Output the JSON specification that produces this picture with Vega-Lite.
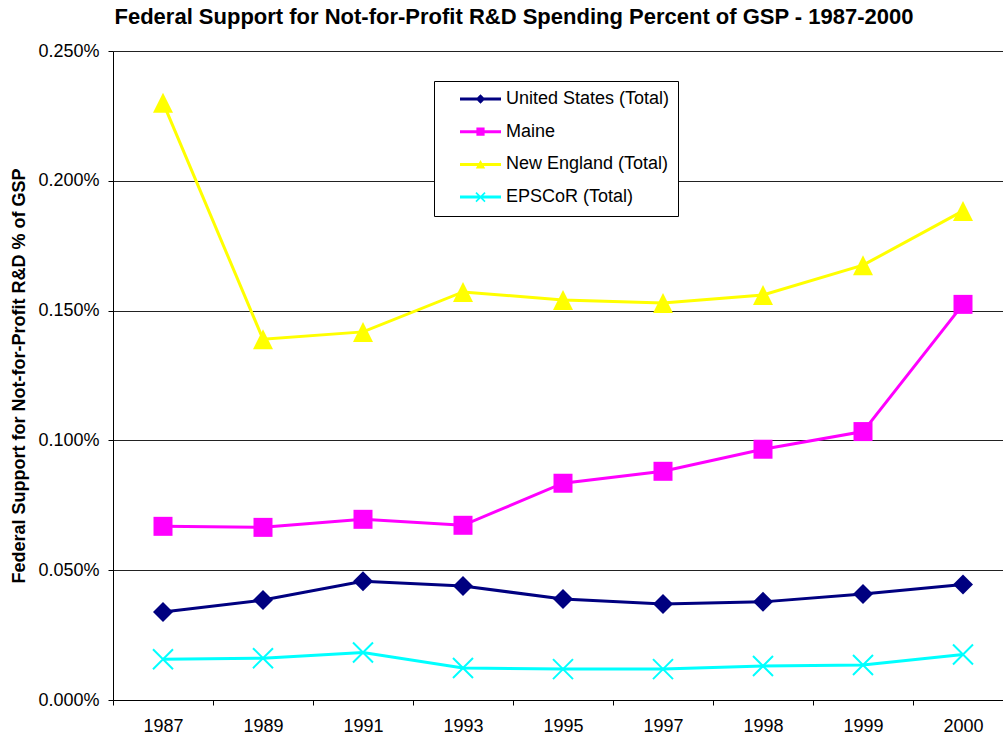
{
  "$schema": "https://vega.github.io/schema/vega-lite/v6.json",
  "width": 890,
  "height": 649,
  "autosize": {"type": "none"},
  "padding": {"left": 113, "top": 51, "right": 0, "bottom": 34},
  "background": "white",
  "config": {"view": {"stroke": null}, "font": "Liberation Sans"},
  "title": {
    "text": "Federal Support for Not-for-Profit R&D Spending Percent of GSP - 1987-2000",
    "font": "Liberation Sans",
    "fontSize": 22,
    "fontWeight": "bold",
    "color": "black",
    "anchor": "middle",
    "frame": "group",
    "offset": -4,
    "baseline": "alphabetic",
    "dx": -44
  },
  "data": {
    "values": [
      {"year": "1987", "series": "United States (Total)", "pct": 0.0339},
      {"year": "1989", "series": "United States (Total)", "pct": 0.0385},
      {"year": "1991", "series": "United States (Total)", "pct": 0.0457},
      {"year": "1993", "series": "United States (Total)", "pct": 0.0439},
      {"year": "1995", "series": "United States (Total)", "pct": 0.0389},
      {"year": "1997", "series": "United States (Total)", "pct": 0.0370},
      {"year": "1998", "series": "United States (Total)", "pct": 0.0378},
      {"year": "1999", "series": "United States (Total)", "pct": 0.0408},
      {"year": "2000", "series": "United States (Total)", "pct": 0.0445},
      {"year": "1987", "series": "Maine", "pct": 0.0669},
      {"year": "1989", "series": "Maine", "pct": 0.0665},
      {"year": "1991", "series": "Maine", "pct": 0.0696},
      {"year": "1993", "series": "Maine", "pct": 0.0673},
      {"year": "1995", "series": "Maine", "pct": 0.0835},
      {"year": "1997", "series": "Maine", "pct": 0.0881},
      {"year": "1998", "series": "Maine", "pct": 0.0966},
      {"year": "1999", "series": "Maine", "pct": 0.1034},
      {"year": "2000", "series": "Maine", "pct": 0.1524},
      {"year": "1987", "series": "New England (Total)", "pct": 0.2301},
      {"year": "1989", "series": "New England (Total)", "pct": 0.1390},
      {"year": "1991", "series": "New England (Total)", "pct": 0.1418},
      {"year": "1993", "series": "New England (Total)", "pct": 0.1572},
      {"year": "1995", "series": "New England (Total)", "pct": 0.1541},
      {"year": "1997", "series": "New England (Total)", "pct": 0.1529},
      {"year": "1998", "series": "New England (Total)", "pct": 0.1560},
      {"year": "1999", "series": "New England (Total)", "pct": 0.1675},
      {"year": "2000", "series": "New England (Total)", "pct": 0.1884},
      {"year": "1987", "series": "EPSCoR (Total)", "pct": 0.0157},
      {"year": "1989", "series": "EPSCoR (Total)", "pct": 0.0161},
      {"year": "1991", "series": "EPSCoR (Total)", "pct": 0.0183},
      {"year": "1993", "series": "EPSCoR (Total)", "pct": 0.0123},
      {"year": "1995", "series": "EPSCoR (Total)", "pct": 0.0119},
      {"year": "1997", "series": "EPSCoR (Total)", "pct": 0.0119},
      {"year": "1998", "series": "EPSCoR (Total)", "pct": 0.0131},
      {"year": "1999", "series": "EPSCoR (Total)", "pct": 0.0135},
      {"year": "2000", "series": "EPSCoR (Total)", "pct": 0.0175}
    ]
  },
  "encoding": {
    "x": {
      "field": "year",
      "type": "ordinal",
      "bandPosition": 0.5,
      "scale": {"type": "band", "range": [0, 900], "paddingInner": 0, "paddingOuter": 0},
      "axis": {
        "title": null,
        "labelAngle": 0,
        "labelFont": "Liberation Sans",
        "labelFontSize": 18,
        "labelColor": "black",
        "labelPadding": 12,
        "tickSize": 5,
        "tickColor": "black",
        "domainColor": "black",
        "tickBand": "extent",
        "grid": false
      }
    },
    "y": {
      "field": "pct",
      "type": "quantitative",
      "scale": {"domain": [0, 0.25], "nice": false},
      "axis": {
        "values": [0, 0.05, 0.1, 0.15, 0.2, 0.25],
        "labelExpr": "format(datum.value, '.3f') + '%'",
        "labelFont": "Liberation Sans",
        "labelFontSize": 18,
        "labelColor": "black",
        "labelPadding": 9,
        "tickSize": 5,
        "tickColor": "black",
        "domainColor": "black",
        "grid": true,
        "gridColor": "#222222",
        "title": "Federal Support for Not-for-Profit R&D % of GSP",
        "titleFont": "Liberation Sans",
        "titleFontSize": 18,
        "titleFontWeight": "bold",
        "titleColor": "black",
        "titleX": -94,
        "titleAngle": -90,
        "titleBaseline": "middle",
        "titleAlign": "center"
      }
    }
  },
  "layer": [
    {
      "mark": {"type": "line", "strokeWidth": 3},
      "encoding": {
        "color": {
          "field": "series",
          "type": "nominal",
          "scale": {
            "domain": ["United States (Total)", "Maine", "New England (Total)", "EPSCoR (Total)"],
            "range": ["#000080", "#FF00FF", "#FFFF00", "#00FFFF"]
          },
          "legend": {
            "orient": "none",
            "legendX": 321,
            "legendY": 30,
            "title": null,
            "direction": "vertical",
            "padding": 8,
            "strokeColor": "black",
            "fillColor": "white",
            "labelFont": "Liberation Sans",
            "labelFontSize": 18,
            "labelColor": "black",
            "labelLimit": 400,
            "symbolSize": 1681,
            "symbolStrokeWidth": 0,
            "symbolOffset": 18,
            "labelOffset": 5,
            "clipHeight": 20,
            "rowPadding": 12.7,
            "encode": {
              "symbols": {
                "update": {
                  "shape": {"signal": "datum.value === 'United States (Total)' ? 'M-1,-0.073L1,-0.073L1,0.073L-1,0.073ZM0,-0.23L0.23,0L0,0.23L-0.23,0Z' : datum.value === 'Maine' ? 'M-1,-0.073L1,-0.073L1,0.073L-1,0.073ZM-0.2,-0.2L0.2,-0.2L0.2,0.2L-0.2,0.2Z' : datum.value === 'New England (Total)' ? 'M-1,-0.073L1,-0.073L1,0.073L-1,0.073ZM0,-0.22L0.23,0.2L-0.23,0.2Z' : 'M-1,-0.073L1,-0.073L1,0.073L-1,0.073ZM-0.192,-0.248L0.248,0.192L0.192,0.248L-0.248,-0.192ZM0.192,-0.248L0.248,-0.192L-0.192,0.248L-0.248,0.192Z'"},
                  "fill": {"signal": "scale('color', datum.value)"},
                  "strokeWidth": {"value": 0},
                  "opacity": {"value": 1}
                }
              }
            }
          }
        }
      }
    },
    {
      "transform": [{"filter": "datum.series === 'United States (Total)'"}],
      "mark": {"type": "point", "filled": true, "opacity": 1, "size": 400, "strokeWidth": 0, "color": "#000080", "shape": "M0,-1L1,0L0,1L-1,0Z"}
    },
    {
      "transform": [{"filter": "datum.series === 'Maine'"}],
      "mark": {"type": "point", "filled": true, "opacity": 1, "size": 400, "strokeWidth": 0, "color": "#FF00FF", "shape": "M-0.95,-0.95L0.95,-0.95L0.95,0.95L-0.95,0.95Z"}
    },
    {
      "transform": [{"filter": "datum.series === 'New England (Total)'"}],
      "mark": {"type": "point", "filled": true, "opacity": 1, "size": 400, "strokeWidth": 0, "color": "#FFFF00", "shape": "M0,-1L1,1L-1,1Z"}
    },
    {
      "transform": [{"filter": "datum.series === 'EPSCoR (Total)'"}],
      "mark": {"type": "point", "filled": true, "opacity": 1, "size": 400, "strokeWidth": 0, "color": "#00FFFF", "shape": "M-0.93,-1.07L1.07,0.93L0.93,1.07L-1.07,-0.93ZM0.93,-1.07L1.07,-0.93L-0.93,1.07L-1.07,0.93Z"}
    }
  ]
}
